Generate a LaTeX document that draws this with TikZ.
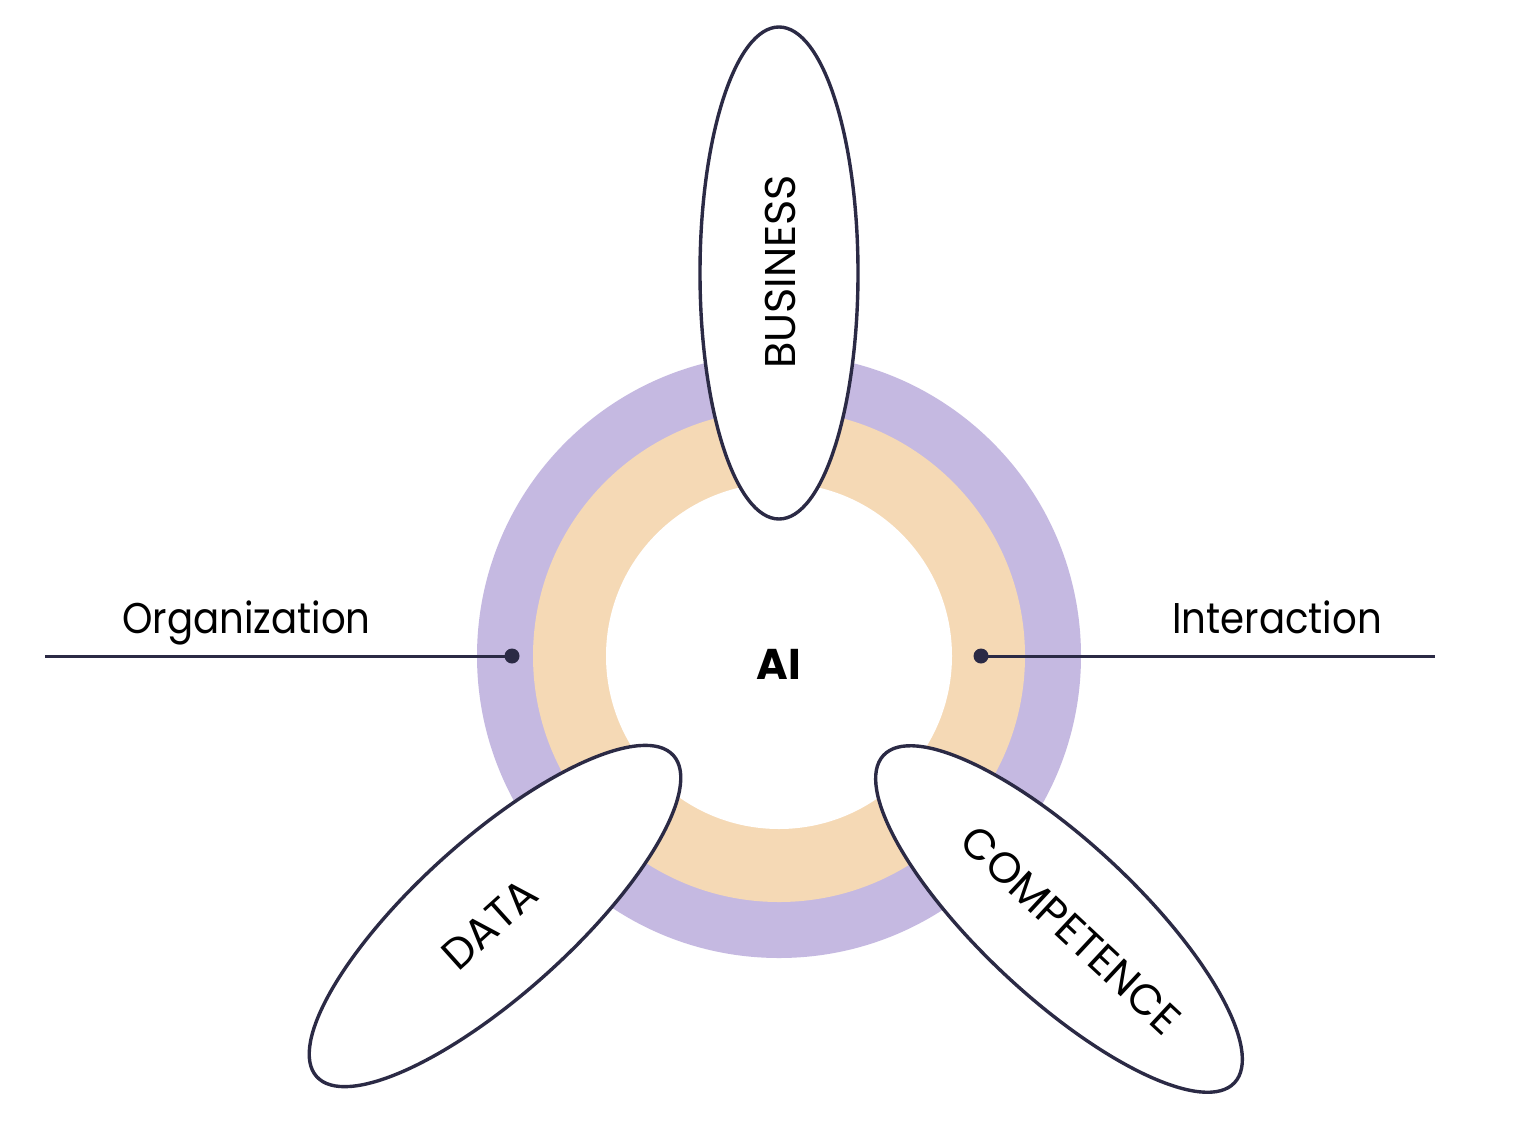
\documentclass[tikz,border=0pt]{standalone}
\usepackage{fontspec}
\setmainfont{Poppins}
\newfontfamily\labelfont[FakeStretch=0.9]{Poppins}
\usetikzlibrary{shapes.geometric}
\definecolor{ringpurple}{HTML}{C5B9E1}
\definecolor{ringpeach}{HTML}{F5D9B5}
\definecolor{ink}{HTML}{2B2A45}
\begin{document}
\begin{tikzpicture}[x=1pt,y=-1pt,
  petal/.style={ellipse, draw=ink, line width=3.4pt, fill=white, minimum width=492pt, minimum height=158pt, inner sep=0pt},
  caplabel/.style={font=\fontsize{43}{50}\selectfont, text height=30pt, text depth=0pt, inner sep=0pt, anchor=center},
  sidelabel/.style={font=\labelfont\fontsize{43}{50}\selectfont, inner sep=0pt, anchor=base west},
  link/.style={draw=ink, line width=3pt},
  dot/.style={circle, fill=ink, minimum size=15pt, inner sep=0pt}]
\useasboundingbox (0,0) rectangle (1521,1120);
\fill[white] (0,0) rectangle (1521,1120);
\coordinate (c) at (779,656);
\fill[ringpurple] (c) circle[radius=302];
\fill[ringpeach] (c) circle[radius=246];
\fill[white] (c) circle[radius=173];
% connectors
\coordinate (lend) at (45,656);
\coordinate (rend) at (1435,656);
\node[dot] (ldot) at (512,656) {};
\node[dot] (rdot) at (981,656) {};
\draw[link] (lend) -- (ldot.center);
\draw[link] (rdot.center) -- (rend);
% petals
\node[petal, rotate=90] (business) at (779,273) {};
\node[petal, rotate=42, minimum width=480pt, minimum height=155pt] (data) at (495,916) {};
\node[petal, rotate=-43, minimum width=480pt, minimum height=155pt] (competence) at (1059,919) {};
\node[caplabel, rotate=90] (tbusiness) at (780,272) {BUSINESS};
\node[caplabel, rotate=42] (tdata) at (489.5,924) {DATA};
\node[caplabel, rotate=-43] (tcompetence) at (1071,930) {COMPETENCE};
% labels
\node[caplabel, font=\fontsize{43}{50}\selectfont\bfseries] (ai) at (779,664) {AI};
\node[sidelabel] (org) at (122,633) {Organization};
\node[sidelabel] (inter) at (1172,633) {Interaction};
\end{tikzpicture}
\end{document}
